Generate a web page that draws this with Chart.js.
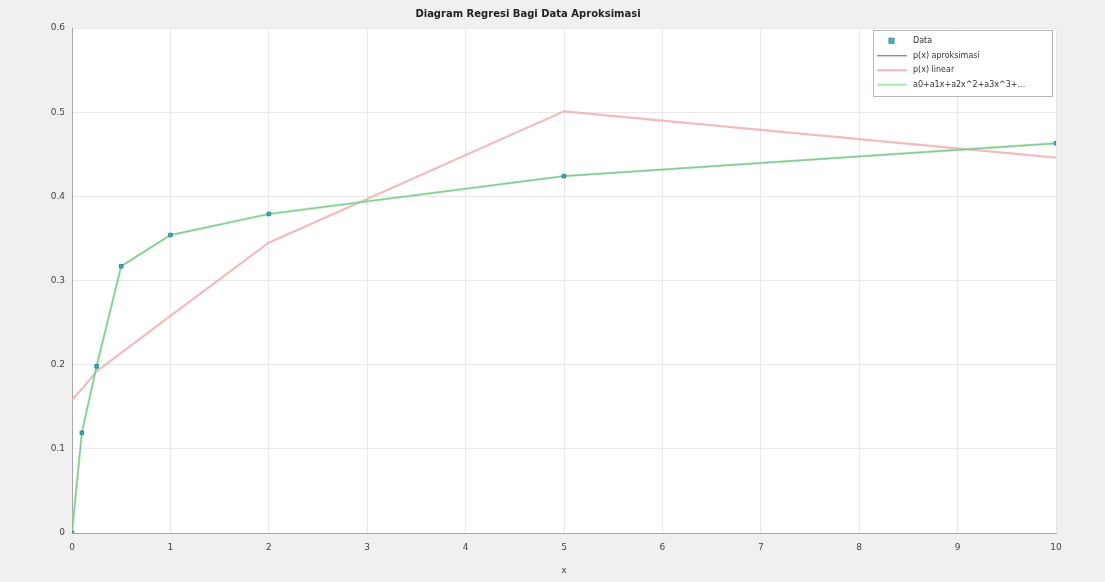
<!DOCTYPE html>
<html>
<head>
<meta charset="utf-8">
<script src="https://cdn.jsdelivr.net/npm/chart.js@4"></script>
<style>
  html, body { margin: 0; padding: 0; background: #f0f0f0; }
  #c { display: block; }
</style>
</head>
<body>
<canvas id="c" width="1105" height="582"></canvas>
<script>
// Sample points and the curves evaluated at them
const xValues = [0, 0.1, 0.25, 0.5, 1, 2, 5, 10];
const dataValues = [0, 0.119, 0.198, 0.317, 0.354, 0.379, 0.424, 0.463];
const approxValues = [0, 0.119, 0.198, 0.317, 0.354, 0.379, 0.424, 0.463];
const linearValues = [0.158, 0.171, 0.192, 0.214, 0.258, 0.345, 0.501, 0.446];
const polyValues = [0, 0.119, 0.198, 0.317, 0.354, 0.379, 0.424, 0.463];

const seriesLabels = ['Data', 'p(x) aproksimasi', 'p(x) linear', 'a0+a1x+a2x^2+a3x^3+...'];
const titleText = 'Diagram Regresi Bagi Data Aproksimasi';
const xTicks = [0, 1, 2, 3, 4, 5, 6, 7, 8, 9, 10];
const yTicks = [0, 0.1, 0.2, 0.3, 0.4, 0.5, 0.6];

const toPoints = (ys) => xValues.map((x, i) => ({ x: x, y: ys[i] }));

// White plot area on the grey figure background
const plotBackground = {
  id: 'plotBackground',
  beforeDraw(chart) {
    const { ctx, chartArea: a } = chart;
    ctx.save();
    ctx.fillStyle = '#ffffff';
    ctx.fillRect(a.left, a.top, a.right - a.left, a.bottom - a.top);
    ctx.restore();
  }
};

// Boxed legend in the upper-right corner of the plot area
const boxLegend = {
  id: 'boxLegend',
  afterDraw(chart) {
    const { ctx, chartArea: a } = chart;
    const sets = chart.data.datasets;
    ctx.save();
    ctx.font = '8px "DejaVu Sans", sans-serif';
    const rowH = 14.5;
    const w = 179;
    const h = 66;
    const x0 = a.right - w - 4;
    const y0 = a.top + 2;
    ctx.fillStyle = '#ffffff';
    ctx.fillRect(x0, y0, w, h);
    ctx.strokeStyle = '#b8b8b8';
    ctx.lineWidth = 1;
    ctx.strokeRect(x0 + 0.5, y0 + 0.5, w, h);
    sets.forEach((ds, i) => {
      const cy = y0 + 4 + rowH * i + rowH / 2;
      if (ds.showLine === false) {
        ctx.fillStyle = ds.pointBackgroundColor;
        ctx.strokeStyle = ds.pointBorderColor;
        ctx.fillRect(x0 + 16, cy - 3, 5, 5);
        ctx.strokeRect(x0 + 16, cy - 3, 5, 5);
      } else {
        ctx.strokeStyle = ds.borderColor;
        ctx.lineWidth = ds.borderWidth;
        ctx.beginPath();
        ctx.moveTo(x0 + 4, cy);
        ctx.lineTo(x0 + 34, cy);
        ctx.stroke();
      }
      ctx.fillStyle = '#333333';
      ctx.textBaseline = 'middle';
      ctx.fillText(ds.label, x0 + 40, cy);
    });
    ctx.restore();
  }
};

new Chart(document.getElementById('c'), {
  type: 'scatter',
  data: {
    datasets: [
      {
        label: seriesLabels[0],
        data: toPoints(dataValues),
        showLine: false,
        pointStyle: 'rect',
        pointRadius: 2.5,
        pointBackgroundColor: 'rgba(40,160,190,0.8)',
        pointBorderColor: 'rgba(30,130,150,0.9)',
        order: 0
      },
      {
        label: seriesLabels[1],
        data: toPoints(approxValues),
        showLine: true,
        borderColor: 'rgba(50,80,150,0.75)',
        borderWidth: 1.2,
        pointRadius: 0,
        order: 2
      },
      {
        label: seriesLabels[2],
        data: toPoints(linearValues),
        showLine: true,
        borderColor: 'rgba(238,170,175,0.8)',
        borderWidth: 2.2,
        pointRadius: 0,
        order: 3
      },
      {
        label: seriesLabels[3],
        data: toPoints(polyValues),
        showLine: true,
        borderColor: 'rgba(150,228,150,0.7)',
        borderWidth: 2.4,
        pointRadius: 0,
        order: 1
      }
    ]
  },
  options: {
    responsive: false,
    animation: false,
    devicePixelRatio: 1,
    layout: { padding: { left: 0, right: 49, top: 0, bottom: 0 } },
    plugins: {
      legend: { display: false },
      tooltip: { enabled: false },
      title: {
        display: true,
        text: titleText,
        color: '#222222',
        font: { family: '"DejaVu Sans", sans-serif', size: 10, weight: 'bold' },
        padding: { top: 8, bottom: 8 }
      }
    },
    scales: {
      x: {
        type: 'linear',
        min: 0,
        max: 10,
        afterBuildTicks(scale) { scale.ticks = xTicks.map(v => ({ value: v })); },
        afterFit(scale) { scale.height = 49; },
        ticks: {
          color: '#444444',
          font: { family: '"DejaVu Sans", sans-serif', size: 9 },
          padding: 9
        },
        grid: { color: '#e8e8e8', tickLength: 0 },
        border: { color: '#a8a8a8', width: 1 },
        title: {
          display: true,
          text: 'x',
          color: '#444444',
          font: { family: '"DejaVu Sans", sans-serif', size: 9 },
          padding: { top: 0, bottom: 6 }
        }
      },
      y: {
        type: 'linear',
        min: 0,
        max: 0.6,
        afterBuildTicks(scale) { scale.ticks = yTicks.map(v => ({ value: v })); },
        afterFit(scale) { scale.width = 72; },
        ticks: {
          color: '#444444',
          font: { family: '"DejaVu Sans", sans-serif', size: 9 },
          padding: 7
        },
        grid: { color: '#e8e8e8', tickLength: 0 },
        border: { color: '#a8a8a8', width: 1 }
      }
    }
  },
  plugins: [plotBackground, boxLegend]
});
</script>
</body>
</html>
